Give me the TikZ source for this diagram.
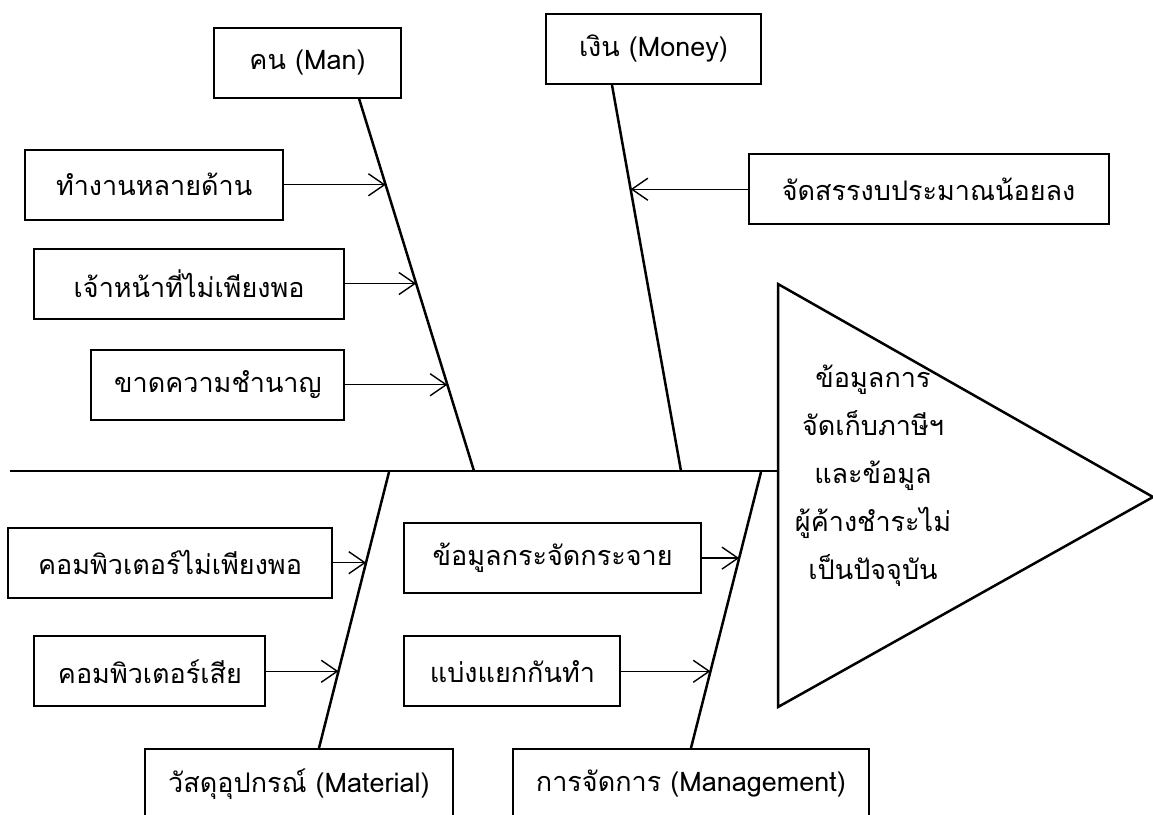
\documentclass[tikz,border=0pt]{standalone}
\usepackage{fontspec}
\setmainfont[Script=Thai]{Loma}
\usetikzlibrary{positioning, calc, arrows.meta}

\begin{document}
\begin{tikzpicture}[x=1pt, y=-1pt, >={Straight Barb[length=16pt, width=22pt]}, font=\fontsize{27}{32}\selectfont,
    bone/.style={line width=2.5pt}, twig/.style={->, line width=1.4pt}, box/.style={draw, line width=2pt, minimum height=70pt}]

\clip (0,0) rectangle (1153,814);

% head and spine
\coordinate (headtop) at (778,284);
\coordinate (headtip) at (1153,497);
\coordinate (headbot) at (778,707);
\coordinate (tail) at (10,471);
\draw[bone] (headtop) -- (headtip) -- (headbot) -- cycle;
\draw[bone] (tail) -- (tail -| headtop);
\node[align=center, font=\fontsize{27}{48}\selectfont] (effect) at (873,476) {ข้อมูลการ\\จัดเก็บภาษีฯ\\และข้อมูล\\ผู้ค้างชำระไม่\\เป็นปัจจุบัน};

% main bones
\node[box, minimum width=187pt] (man) at (307.5,62.5) {คน (Man)};
\node[box, minimum width=215pt] (money) at (653.5,49) {เงิน (Money)};
\node[box, minimum width=308pt] (matl) at (299,784) {วัสดุอุปกรณ์ (Material)};
\node[box, minimum width=356pt] (mgmt) at (691,784) {การจัดการ (Management)};

\coordinate (mantop) at ([xshift=51.5pt]man.south);
\coordinate (manend) at (474,471);
\coordinate (moneytop) at ([xshift=-41.5pt]money.south);
\coordinate (moneyend) at (681,471);
\coordinate (matlend) at (389,472);
\coordinate (matlbot) at ([xshift=20pt]matl.north);
\coordinate (mgmtend) at (761,472);

\draw[bone] (mantop) -- (manend);
\draw[bone] (moneytop) -- (moneyend);
\draw[bone] (matlend) -- (matlbot);
\draw[bone] (mgmtend) -- (mgmt.north);

% causes
\coordinate (m1) at ($(mantop)!0.2316!(manend)$);
\coordinate (m2) at ($(mantop)!0.4967!(manend)$);
\coordinate (m3) at ($(mantop)!0.7684!(manend)$);
\coordinate (d1) at ($(moneytop)!0.27!(moneyend)$);
\coordinate (t1) at ($(matlend)!0.3285!(matlbot)$);
\coordinate (t2) at ($(matlend)!0.722!(matlbot)$);
\coordinate (g1) at ($(mgmtend)!0.312!(mgmt.north)$);
\coordinate (g2) at ($(mgmtend)!0.722!(mgmt.north)$);

\node[box, minimum width=258pt, left=101.5pt of m1] (work) {ทำงานหลายด้าน};
\node[box, minimum width=310pt, left=71pt of m2] (staff) {เจ้าหน้าที่ไม่เพียงพอ};
\node[box, minimum width=253pt, left=102pt of m3] (skill) {ขาดความชำนาญ};
\node[box, minimum width=360pt, right=117pt of d1] (budget) {จัดสรรงบประมาณน้อยลง};
\node[box, minimum width=324pt, left=33pt of t1] (pcless) {คอมพิวเตอร์ไม่เพียงพอ};
\node[box, minimum width=231pt, left=72pt of t2] (pcbad) {คอมพิวเตอร์เสีย};
\node[box, minimum width=297pt, left=37pt of g1] (scatter) {ข้อมูลกระจัดกระจาย};
\node[box, minimum width=216pt, left=89pt of g2] (split) {แบ่งแยกกันทำ};

\draw[twig] (work) -- (m1);
\draw[twig] (staff) -- (m2);
\draw[twig] (skill) -- (m3);
\draw[twig] (budget) -- (d1);
\draw[twig] (pcless) -- (t1);
\draw[twig] (pcbad) -- (t2);
\draw[twig] (scatter) -- (g1);
\draw[twig] (split) -- (g2);

\end{tikzpicture}
\end{document}
